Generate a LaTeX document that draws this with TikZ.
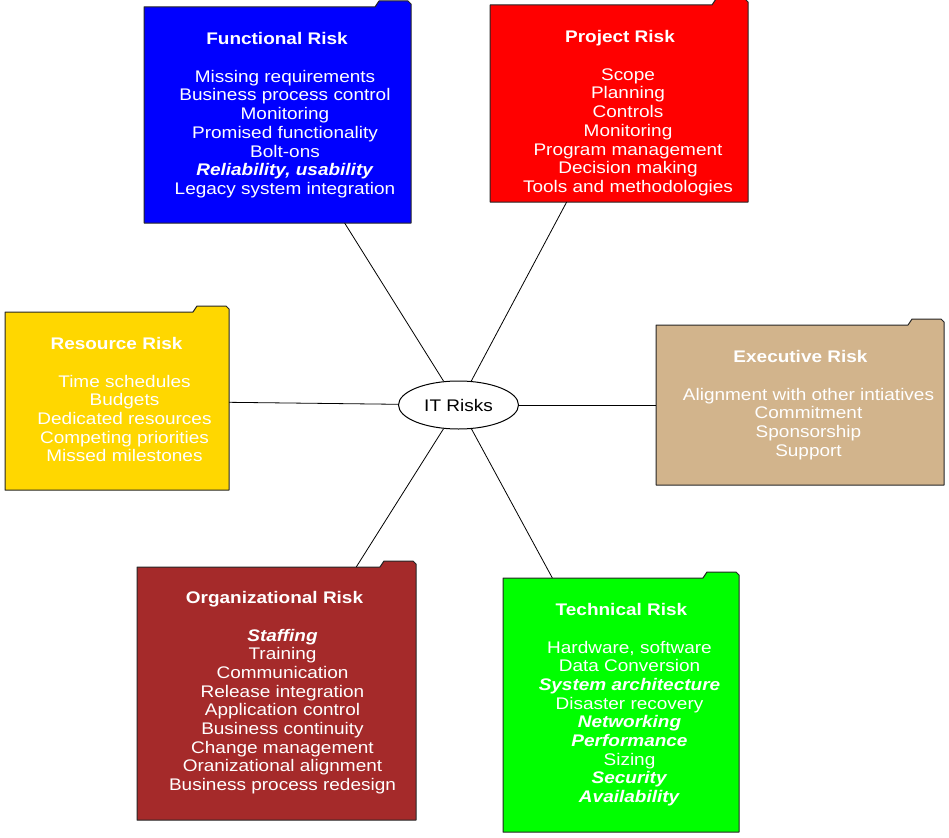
\documentclass[tikz,border=0pt]{standalone}
\usepackage{fontspec}
\setmainfont{Liberation Sans}[FakeStretch=1.13]
\usetikzlibrary{shapes.geometric}

\definecolor{funcblue}{HTML}{0000FF}
\definecolor{projred}{HTML}{FF0000}
\definecolor{resgold}{HTML}{FFD700}
\definecolor{exectan}{HTML}{D2B48C}
\definecolor{orgbrown}{HTML}{A52A2A}
\definecolor{techgreen}{HTML}{00FF00}

\tikzset{
  folder/.style={rectangle, inner sep=0pt, outer sep=0pt,
    append after command={\pgfextra{
      \filldraw[fill=#1, draw=black!85, line width=1pt, line join=round]
        (\tikzlastnode.south west) -- (\tikzlastnode.north west)
        -- ([xshift=-36pt]\tikzlastnode.north east)
        -- ([xshift=-32pt, yshift=6pt]\tikzlastnode.north east)
        -- ([xshift=-3pt, yshift=6pt]\tikzlastnode.north east)
        -- ([yshift=3pt]\tikzlastnode.north east)
        -- (\tikzlastnode.south east) -- cycle;
    }}},
  risklist/.style={text=white, align=center, inner sep=0pt,
    font=\fontsize{16.8pt}{18.7pt}\selectfont},
}

\begin{document}
\begin{tikzpicture}[x=1pt, y=-1pt]
  \useasboundingbox (0,0) rectangle (949,837);

  \node[ellipse, draw, line width=1pt, minimum width=120pt, minimum height=48pt,
    inner sep=0pt, font=\fontsize{16.8pt}{18.7pt}\selectfont] (itrisks) at (458.5,405) {IT Risks};

  % folders
  \node[folder=funcblue, minimum width=267pt, minimum height=216pt] (func) at (277.5,115) {};
  \node[folder=projred, minimum width=258pt, minimum height=197pt] (proj) at (619,103.5) {};
  \node[folder=resgold, minimum width=224pt, minimum height=178pt] (res) at (117,401) {};
  \node[folder=exectan, minimum width=288pt, minimum height=160pt] (exec) at (800,405) {};
  \node[folder=orgbrown, minimum width=279pt, minimum height=253pt] (org) at (276.5,693.5) {};
  \node[folder=techgreen, minimum width=236pt, minimum height=254pt] (tech) at (621,705) {};

  % texts
  \node[risklist] (func-list) at (285,115) {\textbf{Functional Risk}\hspace*{16pt}\\[19.3pt]
    Missing requirements\\ Business process control\\ Monitoring\\ Promised functionality\\
    Bolt-ons\\ \textbf{\textit{Reliability, usability}}\\ Legacy system integration};
  \node[risklist] (proj-list) at (628,113) {\textbf{Project Risk}\hspace*{16pt}\\[19.3pt]
    Scope\\ Planning\\ Controls\\ Monitoring\\ Program management\\ Decision making\\
    Tools and methodologies};
  \node[risklist] (res-list) at (124.5,399.5) {\textbf{Resource Risk}\hspace*{16pt}\\[19.3pt]
    Time schedules\\ Budgets\\ Dedicated resources\\ Competing priorities\\ Missed milestones};
  \node[risklist] (exec-list) at (808.5,405) {\textbf{Executive Risk}\hspace*{16pt}\\[19.3pt]
    Alignment with other intiatives\\ Commitment\\ Sponsorship\\ Support};
  \node[risklist] (org-list) at (282.5,692.5) {\textbf{Organizational Risk}\hspace*{16pt}\\[19.3pt]
    \textbf{\textit{Staffing}}\\ Training\\ Communication\\ Release integration\\
    Application control\\ Business continuity\\ Change management\\
    Oranizational alignment\\ Business process redesign};
  \node[risklist] (tech-list) at (629.5,704.5) {\textbf{Technical Risk}\hspace*{16pt}\\[19.3pt]
    Hardware, software\\ Data Conversion\\ \textbf{\textit{System architecture}}\\
    Disaster recovery\\ \textbf{\textit{Networking}}\\ \textbf{\textit{Performance}}\\
    Sizing\\ \textbf{\textit{Security}}\\ \textbf{\textit{Availability}}};

  % connectors
  \foreach \n in {func, proj, res, exec, org, tech}
    \draw[line width=0.8pt] (itrisks) -- (\n);
\end{tikzpicture}
\end{document}
